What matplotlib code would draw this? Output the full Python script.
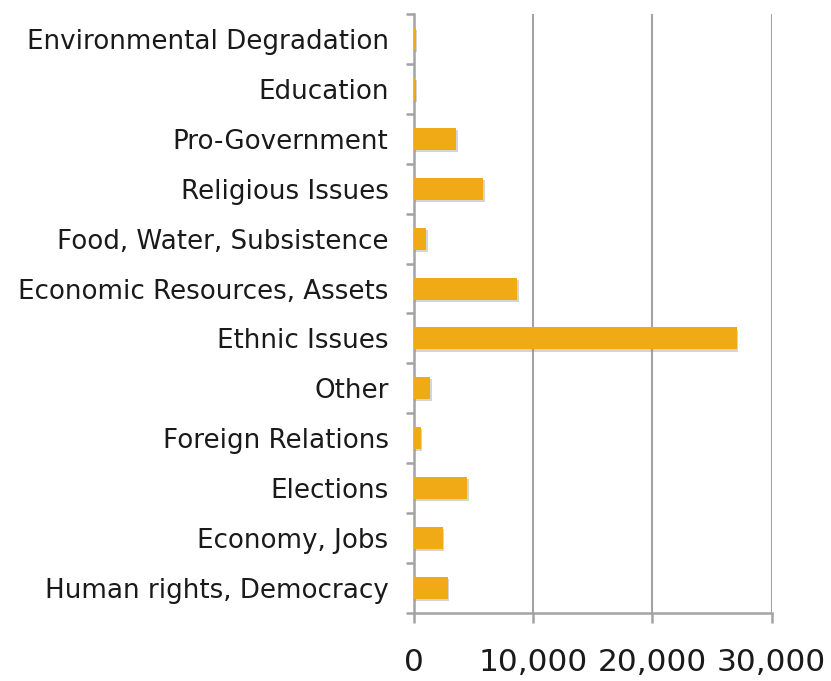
import matplotlib.pyplot as plt
from matplotlib import patheffects
from matplotlib.ticker import FuncFormatter

# issue categories, listed bottom to top
categories = [
    "Human rights, Democracy",
    "Economy, Jobs",
    "Elections",
    "Foreign Relations",
    "Other",
    "Ethnic Issues",
    "Economic Resources, Assets",
    "Food, Water, Subsistence",
    "Religious Issues",
    "Pro-Government",
    "Education",
    "Environmental Degradation",
]
counts = [2850, 2450, 4500, 600, 1400, 27050, 8700, 1050, 5850, 3600, 150, 180]
x_ticks = [0, 10000, 20000, 30000]

bar_color = "#F0AA16"
axis_gray = "#A3A3A3"

fig = plt.figure(figsize=(8.31, 6.81), dpi=100)
ax = fig.add_axes([0.4976, 0.0999, 0.4311, 0.8795])

ypos = range(len(categories))
bars = ax.barh(ypos, counts, height=0.44, color=bar_color, zorder=3)
for b in bars:
    b.set_path_effects([
        patheffects.SimplePatchShadow(offset=(1.2, -1.5), shadow_rgbFace="#888888", alpha=0.35),
        patheffects.Normal(),
    ])

ax.set_xlim(0, 30000)
ax.set_ylim(-0.5, len(categories) - 0.5)
ax.set_xticks(x_ticks)
ax.xaxis.set_major_formatter(FuncFormatter(lambda v, p: f"{int(v):,}"))
ax.set_yticks([i - 0.5 for i in range(len(categories) + 1)], minor=False)
ax.set_yticklabels([])
ax.set_yticks(list(ypos), minor=True)
ax.set_yticklabels(categories, minor=True)

# vertical gridlines only
for v in x_ticks[1:]:
    ax.axvline(v, color=axis_gray, lw=1.5, zorder=1)

for side in ["top", "right"]:
    ax.spines[side].set_visible(False)
for side in ["left", "bottom"]:
    ax.spines[side].set_color(axis_gray)
    ax.spines[side].set_linewidth(1.8)

ax.tick_params(axis="y", which="major", length=6, width=1.8, color=axis_gray, direction="out")
ax.tick_params(axis="y", which="minor", length=0, pad=18, labelsize=18.8, labelcolor="#1a1a1a")
ax.tick_params(axis="x", length=7, width=1.8, color=axis_gray, direction="out",
               pad=18, labelsize=22.5, labelcolor="#1a1a1a")

fig.savefig("out.png", dpi=100)
